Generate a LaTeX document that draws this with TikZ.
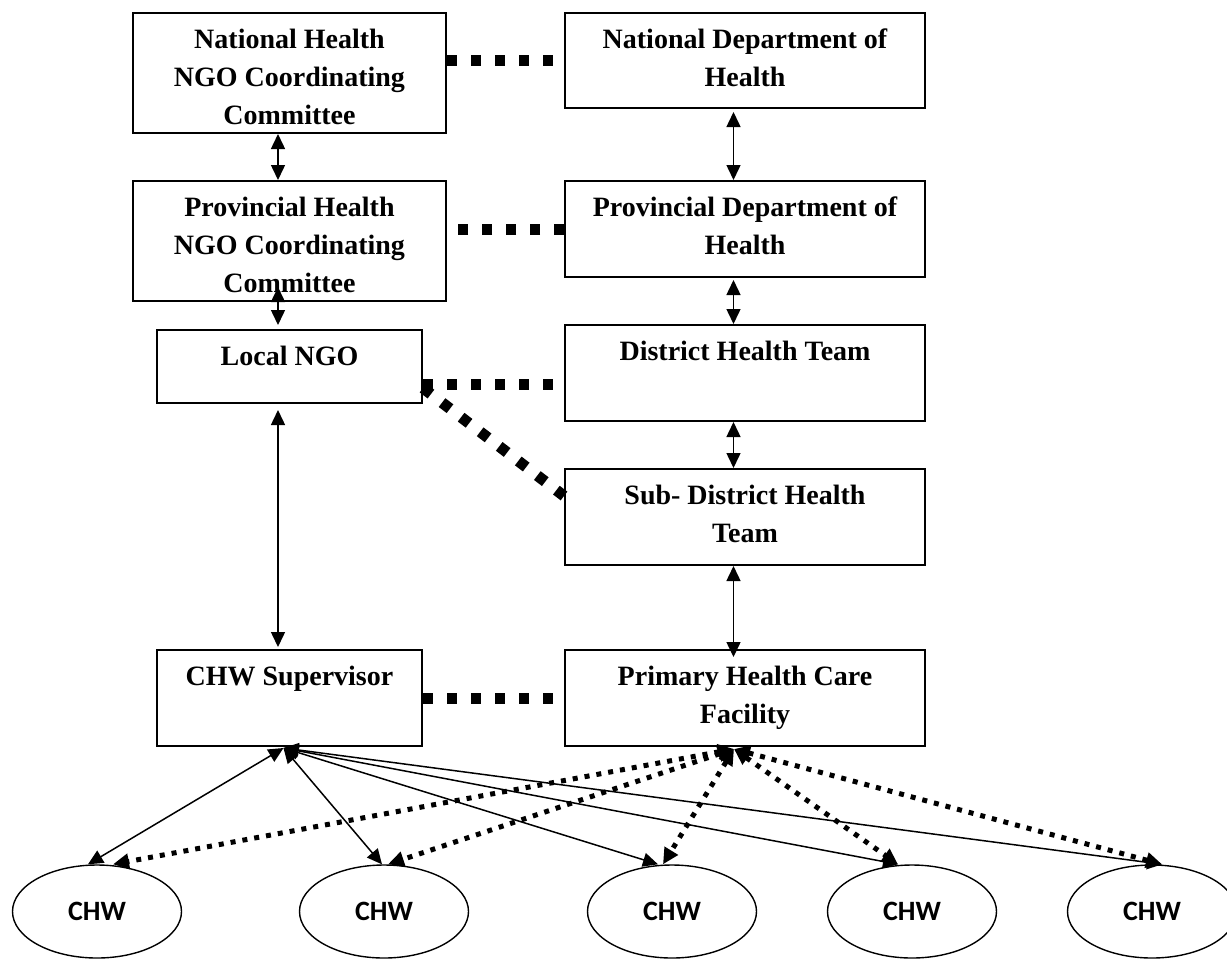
\documentclass[tikz,border=0pt]{standalone}
\usepackage{fontspec}
\setmainfont{Liberation Serif}
\newfontfamily\chwfont{Carlito}
\usetikzlibrary{positioning,arrows.meta,shapes.geometric,calc}

\begin{document}
\begin{tikzpicture}[
  x=0.5pt, y=-0.5pt,
  every node/.style={font=\fontsize{14}{19}\selectfont\bfseries},
  box/.style 2 args={draw, line width=1pt, inner sep=0pt, anchor=north west,
    execute at begin node={\begin{minipage}[c][#2][t]{#1}\centering\rule{0pt}{17.5pt}},
    execute at end node={\end{minipage}}},
  chw/.style={ellipse, draw, line width=0.7pt, minimum width=84.5pt, minimum height=46.5pt,
    inner sep=0pt, font=\chwfont\fontsize{14}{17}\selectfont\bfseries},
  link/.style={line width=0.75pt, {Triangle[length=7.5pt,width=7pt]}-{Triangle[length=7.5pt,width=7pt]}},
  tie/.style={line width=5.5pt, dash pattern=on 5pt off 7pt},
  dotlink/.style={line width=2.5pt, dash pattern=on 2.5pt off 3.5pt,
    {Triangle[length=8pt,width=7.5pt]}-{Triangle[length=8pt,width=7.5pt]}}
]
\useasboundingbox (0,0) rectangle (1227,960);

% NGO side
\node[box={156.5pt}{60pt}] (nngo) at (132,12) {National Health\\NGO Coordinating\\Committee};
\node[box={156.5pt}{60pt}] (pngo) at (132,180) {Provincial Health\\NGO Coordinating\\Committee};
\node[box={132.5pt}{36.5pt}] (lngo) at (156,329) {Local NGO};
\node[box={132.5pt}{48pt}] (csup) at (156,649) {CHW Supervisor};

% Government side
\node[box={180pt}{47.5pt}] (ndoh) at (564,12) {National Department of\\Health};
\node[box={180pt}{48pt}] (pdoh) at (564,180) {Provincial Department of\\Health};
\node[box={180pt}{48pt}] (dht) at (564,324) {District Health Team};
\node[box={180pt}{48pt}] (sdht) at (564,468) {Sub- District Health\\Team};
\node[box={180pt}{48pt}] (phc) at (564,649) {Primary Health Care\\Facility};

% Vertical links
\draw[link] ([xshift=-5.75pt]nngo.south) -- ([xshift=-5.75pt]pngo.north);
\draw[link] ([xshift=-5.75pt,yshift=7.5pt]pngo.south) -- ([xshift=-5.75pt,yshift=2pt]lngo.north);
\draw[link] ([xshift=-5.75pt,yshift=-3pt]lngo.south) -- ([xshift=-5.75pt,yshift=1pt]csup.north);
\draw[link] ([xshift=-5.75pt,yshift=-1.5pt]ndoh.south) -- ([xshift=-5.75pt]pdoh.north);
\draw[link] ([xshift=-5.75pt,yshift=-1pt]pdoh.south) -- ([xshift=-5.75pt]dht.north);
\draw[link] ([xshift=-5.75pt]dht.south) -- ([xshift=-5.75pt]sdht.north);
\draw[link] ([xshift=-5.75pt]sdht.south) -- ([xshift=-5.75pt,yshift=-4pt]phc.north);

% Ties between the two sides
\draw[tie] (nngo.east |- ndoh.west) -- (ndoh.west);
\draw[tie] (pdoh.west) -- (pngo.east |- pdoh.west);
\draw[tie] ($(lngo.east)+(0,17.5)$) -- ($(dht.west)+(0,11)$);
\draw[tie] ($(lngo.east)+(0,21.5)$) -- ($(sdht.west)+(0,-21)$);
\draw[tie] (csup.east) -- (phc.west);

% CHWs
\foreach \i/\cx in {1/97, 2/384, 3/672, 4/912, 5/1152}
  \node[chw] (c\i) at (\cx,911.5) {CHW};

\foreach \i/\sx/\dx in {1/-9/16, 2/-2/4, 3/-14/-9, 4/-14/-14, 5/10/10} {
  \draw[link] ($(csup.south)+(-6,1)$) -- ($(c\i.north)+(\sx,0)$);
  \draw[dotlink] ($(phc.south)+(-11,2)$) -- ($(c\i.north)+(\dx,0)$);
}
\end{tikzpicture}
\end{document}
